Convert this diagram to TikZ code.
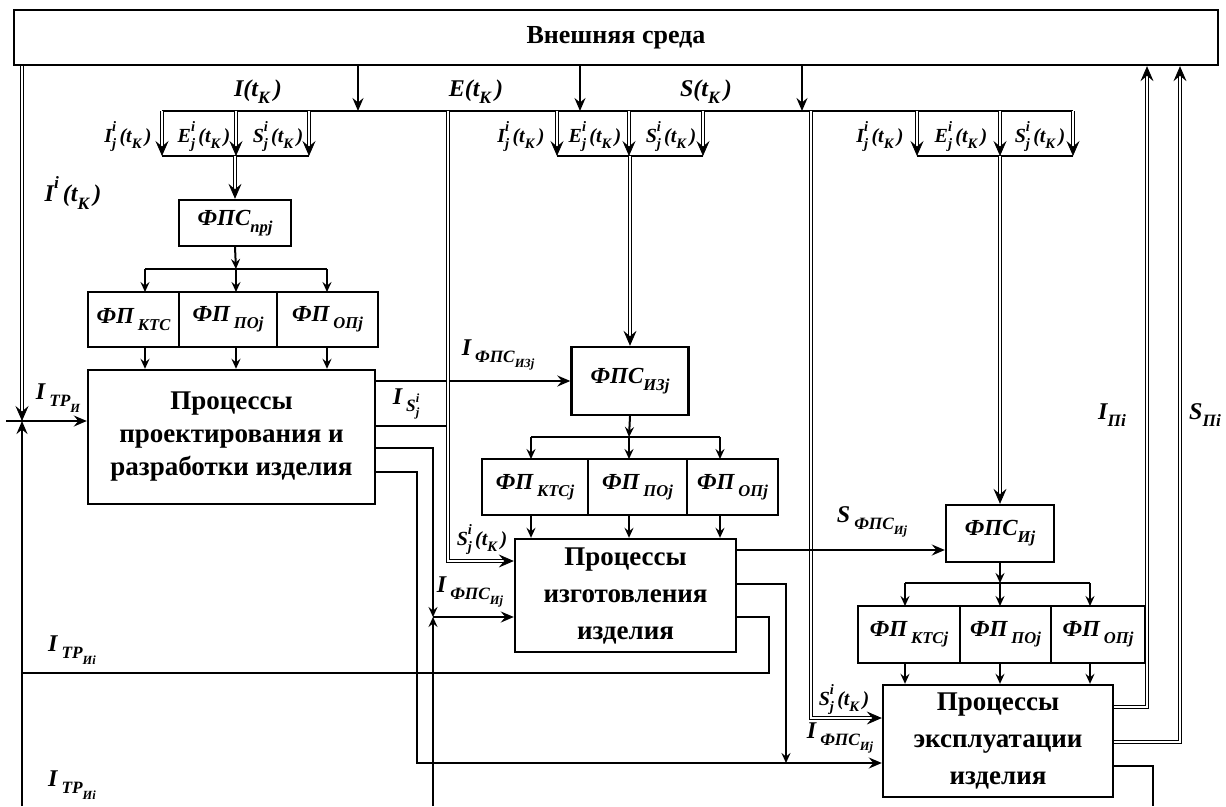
\documentclass[tikz,border=0pt]{standalone}
\usepackage{fontspec}
\setmainfont{Liberation Serif}
\usetikzlibrary{arrows.meta,calc}
\newcommand{\Sb}[1]{\raisebox{-0.3em}{\scalebox{0.72}{#1}}}
\newcommand{\Sp}[1]{\raisebox{0.55em}{\scalebox{0.72}{#1}}}
\newcommand{\SpSb}[2]{\rlap{\Sp{#1}}\Sb{#2}}
\tikzset{
  envbox/.style={draw,line width=2.4pt,inner sep=0pt,font=\fontsize{26}{30}\selectfont\bfseries},
  fbox/.style={draw,line width=2.4pt,inner sep=0pt,font=\fontsize{23}{26}\selectfont\bfseries\itshape},
  proc/.style={draw,line width=2.4pt,inner sep=0pt,align=center,font=\fontsize{27}{33}\selectfont\bfseries},
  procw/.style={proc,font=\fontsize{27}{37}\selectfont\bfseries},
  lbl/.style={inner sep=0pt,font=\fontsize{24}{28}\selectfont\bfseries\itshape},
  slbl/.style={inner sep=0pt,font=\fontsize{20}{24}\selectfont\bfseries\itshape},
  ln/.style={line width=2pt},
  dl/.style={double,double distance=1.8pt,line width=0.8pt},
  arr/.style={-{Stealth[length=13pt,width=11pt,inset=4.5pt]}},
  sarr/.style={-{Stealth[length=10pt,width=9pt,inset=3.5pt]}},
  darr/.style={-{Stealth[length=15pt,width=13pt,inset=5.5pt]}},
}
\begin{document}
\begin{tikzpicture}[x=1pt,y=-1pt]
\useasboundingbox (0,0) rectangle (1226,806);
% ---- nodes
\node[envbox,minimum width=1204pt,minimum height=55pt] (env) at (616,37.5) {Внешняя среда};
\node[fbox,minimum width=112pt,minimum height=46pt] (fps1) at (235,223) {ФПС\Sb{прj}};
\node[fbox,minimum width=91pt,minimum height=55pt] (fp1a) at (133.5,319.5) {ФП\,\Sb{КТС}};
\node[fbox,minimum width=98pt,minimum height=55pt] (fp1b) at (228,319.5) {ФП\,\Sb{ПОj}};
\node[fbox,minimum width=101pt,minimum height=55pt] (fp1c) at (327.5,319.5) {ФП\,\Sb{ОПj}};
\node[proc,minimum width=287pt,minimum height=134pt] (proc1) at (231.5,437) {Процессы\\проектирования и\\разработки изделия};
\node[fbox,minimum width=117pt,minimum height=68pt] (fps2) at (630,381) {ФПС\Sb{ИЗj}};
\node[fbox,minimum width=106pt,minimum height=56pt] (fp2a) at (535,487) {ФП\,\Sb{КТСj}};
\node[fbox,minimum width=99pt,minimum height=56pt] (fp2b) at (637.5,487) {ФП\,\Sb{ПОj}};
\node[fbox,minimum width=91pt,minimum height=56pt] (fp2c) at (732.5,487) {ФП\,\Sb{ОПj}};
\node[procw,minimum width=221pt,minimum height=113pt] (proc2) at (625.5,595.5) {Процессы\\изготовления\\изделия};
\node[fbox,minimum width=108pt,minimum height=57pt] (fps3) at (1000,533.5) {ФПС\Sb{Иj}};
\node[fbox,minimum width=102pt,minimum height=57pt] (fp3a) at (909,634.5) {ФП\,\Sb{КТСj}};
\node[fbox,minimum width=91pt,minimum height=57pt] (fp3b) at (1005.5,634.5) {ФП\,\Sb{ПОj}};
\node[fbox,minimum width=94pt,minimum height=57pt] (fp3c) at (1098,634.5) {ФП\,\Sb{ОПj}};
\node[procw,minimum width=230pt,minimum height=112pt] (proc3) at (998,741) {Процессы\\эксплуатации\\изделия};
% ---- labels
\node[lbl] (lI) at (258,92) {I(t\Sb{К}\,)};
\node[lbl] (lE) at (476,92) {E(t\Sb{К}\,)};
\node[lbl] (lS) at (706,92) {S(t\Sb{К}\,)};
\node[slbl] (l1I) at (128,137) {I\SpSb{i}{j}\,(t\Sb{К}\,)};
\node[slbl] (l1E) at (204,137) {E\SpSb{i}{j}\,(t\Sb{К}\,)};
\node[slbl] (l1S) at (278,137) {S\SpSb{i}{j}\,(t\Sb{К}\,)};
\node[slbl] (l2I) at (521,137) {I\SpSb{i}{j}\,(t\Sb{К}\,)};
\node[slbl] (l2E) at (595,137) {E\SpSb{i}{j}\,(t\Sb{К}\,)};
\node[slbl] (l2S) at (671,137) {S\SpSb{i}{j}\,(t\Sb{К}\,)};
\node[slbl] (l3I) at (880,137) {I\SpSb{i}{j}\,(t\Sb{К}\,)};
\node[slbl] (l3E) at (961,137) {E\SpSb{i}{j}\,(t\Sb{К}\,)};
\node[slbl] (l3S) at (1040,137) {S\SpSb{i}{j}\,(t\Sb{К}\,)};
\node[lbl] (lIi) at (73,193) {I\Sp{i}\,(t\Sb{К}\,)};
\node[lbl] (lItr) at (58,398) {I\,\Sb{ТР\Sb{И}}};
\node[lbl] (lIfiz) at (498,355) {I\,\Sb{ФПС\Sb{ИЗj}}};
\node[lbl] (lIs) at (406,404) {I\,\Sb{S\SpSb{i}{j}}};
\node[slbl] (lS2) at (482,540) {S\SpSb{i}{j}\,(t\Sb{К}\,)};
\node[lbl] (lIfi2) at (470,592) {I\,\Sb{ФПС\Sb{Иj}}};
\node[lbl] (lItr1) at (72,650) {I\,\Sb{ТР\Sb{Иi}}};
\node[lbl] (lItr2) at (72,785) {I\,\Sb{ТР\Sb{Иi}}};
\node[lbl] (lSfi) at (872,522) {S\,\Sb{ФПС\Sb{Иj}}};
\node[lbl] (lIp) at (1112,415) {I\Sb{Пi}};
\node[lbl] (lSp) at (1205,415) {S\Sb{Пi}};
\node[slbl] (lS3) at (844,700) {S\SpSb{i}{j}\,(t\Sb{К}\,)};
\node[lbl] (lIfi3) at (840,738) {I\,\Sb{ФПС\Sb{Иj}}};
% ---- coordinates
\coordinate (busL) at (162,111); \coordinate (busR) at (1073,111);
\coordinate (e1) at (358,111); \coordinate (e2) at (580,111); \coordinate (e3) at (802,111);
\coordinate (jL) at (22,421); \coordinate (jLin) at (6,421); \coordinate (jLb) at (22,806);
\coordinate (k1) at (236,269); \coordinate (k2) at (629,437); \coordinate (k3) at (1000,583);
\coordinate (dS2) at (448,561); \coordinate (dS3) at (811,718);
\coordinate (jM) at (433,617); \coordinate (jMb) at (433,806);
\coordinate (jR) at (786,763);
\coordinate (rI) at (1147,707); \coordinate (rS) at (1180,742);
% ---- main bus and inputs from environment
\draw[ln] (busL) -- (busR);
\foreach \c in {e1,e2,e3} \draw[ln,arr] (env.south -| \c) -- (\c);
% ---- sub-buses
\draw[ln] (162,156) -- (309,156);
\draw[ln] (557,156) -- (703,156);
\draw[ln] (917,156) -- (1073,156);
\foreach \x in {162,236,309,557,629,703,917,1000,1073}
  \draw[dl,darr] (\x,111) -- (\x,156);
\draw[dl,darr] (fps1.north |- 0,156) -- (fps1.north);
\draw[dl,darr] (fps2.north |- 0,156) -- (fps2.north);
\draw[dl,darr] (fps3.north |- 0,156) -- (fps3.north);
% ---- FPS -> FP rows -> process boxes
\draw[ln,sarr] (fps1.south) -- (k1);
\draw[ln] (145,269) -- (327,269);
\foreach \x in {145,236,327} {\draw[ln,sarr] (\x,269) -- (\x,292); \draw[ln,sarr] (\x,347) -- (proc1.north -| \x,0);}
\draw[ln,sarr] (fps2.south) -- (k2);
\draw[ln] (531,437) -- (720,437);
\foreach \x in {531,629,720} {\draw[ln,sarr] (\x,437) -- (\x,459); \draw[ln,sarr] (\x,515) -- (proc2.north -| \x,0);}
\draw[ln,sarr] (fps3.south) -- (k3);
\draw[ln] (905,583) -- (1090,583);
\foreach \x in {905,1000,1090} {\draw[ln,sarr] (\x,583) -- (\x,606); \draw[ln,sarr] (\x,663) -- (proc3.north -| \x,0);}
% ---- left side
\draw[dl,darr] (env.south -| jL) -- (jL);
\draw[ln,arr] (jLb) -- (jL);
\draw[ln,arr] (jLin) -- (proc1.west |- jL);
% ---- process 1 outputs
\draw[ln,arr] (proc1.east |- 0,381) -- (fps2.west |- 0,381);
\draw[ln] (proc1.east |- 0,426) -- (448,426);
\draw[ln,sarr] (proc1.east |- 0,448) -- (433,448) -- (jM);
\draw[ln,sarr] (jMb) -- (jM);
\draw[ln,arr] (jM) -- (proc2.west |- jM);
\draw[ln,arr] (proc1.east |- 0,472) -- (417,472) -- (417,763) -- (proc3.west |- 0,763);
% ---- double lines S
\draw[dl,darr] (dS2 |- busL) -- (dS2) -- (proc2.west |- dS2);
\draw[dl,darr] (dS3 |- busL) -- (dS3) -- (proc3.west |- dS3);
% ---- process 2 outputs
\draw[ln,arr] (proc2.east |- 0,550) -- (fps3.west |- 0,550);
\draw[ln,sarr] (proc2.east |- 0,584) -- (786,584) -- (jR);
\draw[ln] (proc2.east |- 0,617) -- (769,617) -- (769,673) -- (22,673);
% ---- process 3 outputs
\draw[dl,darr] (proc3.east |- rI) -- (rI) -- (env.south -| rI);
\draw[dl,darr] (proc3.east |- rS) -- (rS) -- (env.south -| rS);
\draw[ln] (proc3.east |- 0,766) -- (1153,766) -- (1153,806);
\end{tikzpicture}
\end{document}
